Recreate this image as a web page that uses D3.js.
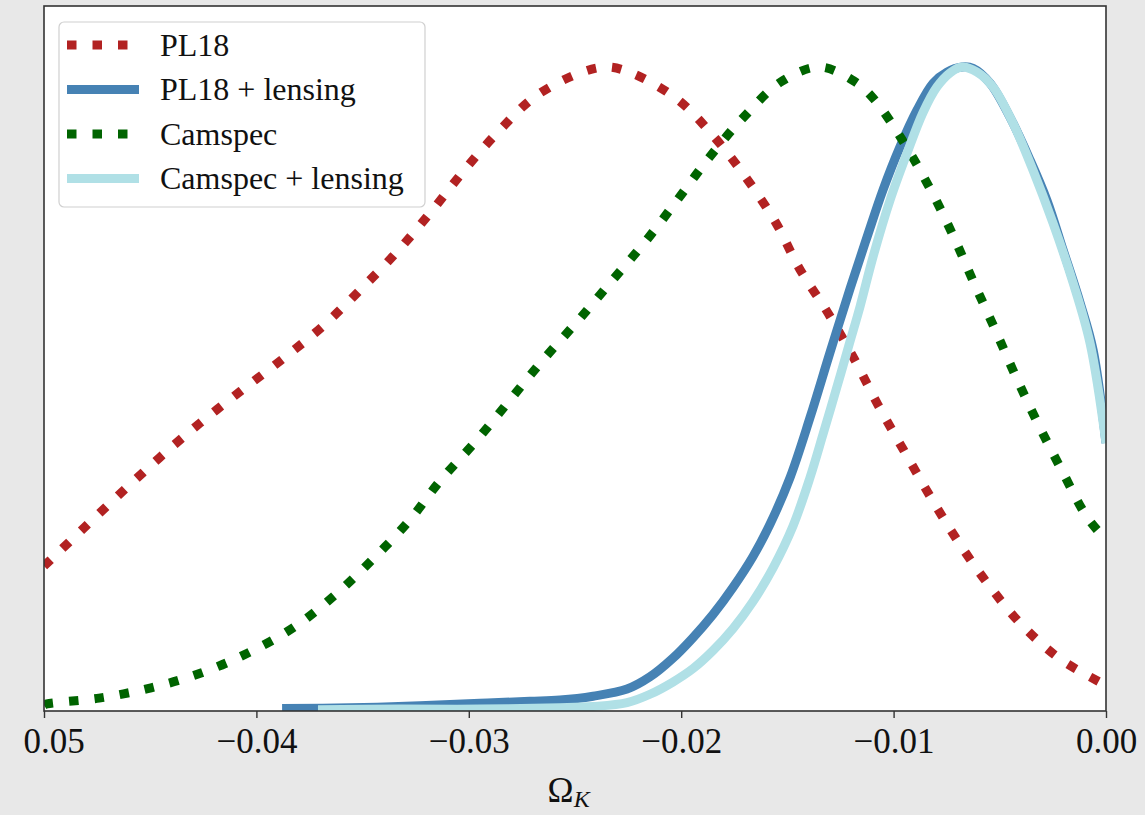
<!DOCTYPE html>
<html>
<head>
<meta charset="utf-8">
<script src="https://cdn.jsdelivr.net/npm/d3@7"></script>
<style>
  body { margin: 0; background: #e8e8e8; }
  svg { display: block; font-family: "Liberation Serif", "DejaVu Serif", serif; }
</style>
</head>
<body>
<div id="chart"></div>
<script>
// posterior of Omega_K, each curve normalised to its peak
const pl18Omega = [-0.05, -0.04816, -0.04633, -0.04454, -0.04266, -0.04073, -0.03875, -0.03686, -0.03508, -0.03338,
  -0.03178, -0.03023, -0.02863, -0.02684, -0.02467, -0.02345, -0.02222, -0.02015, -0.01841, -0.0169,
  -0.01554, -0.01445, -0.01309, -0.01186, -0.01073, -0.00951, -0.00829, -0.00702, -0.0056, -0.004, -0.00217, 0.0];
const pl18Dens = [0.225, 0.283, 0.340, 0.394, 0.447, 0.497, 0.547, 0.598, 0.655, 0.713,
  0.775, 0.839, 0.899, 0.955, 0.992, 1.0, 0.989, 0.949, 0.890, 0.826,
  0.758, 0.688, 0.618, 0.547, 0.475, 0.404, 0.334, 0.266, 0.199, 0.135, 0.081, 0.040];

const pl18LensOmega = [-0.03879, -0.03559, -0.0323, -0.02947, -0.02712, -0.02571, -0.02415, -0.02255, -0.02147, -0.02039,
  -0.01944, -0.0185, -0.01756, -0.01662, -0.01582, -0.01488, -0.01394, -0.013, -0.01205, -0.01125,
  -0.0105, -0.0097, -0.0089, -0.00814, -0.00749, -0.00678, -0.00626, -0.00546, -0.00452, -0.00358,
  -0.00278, -0.00202, -0.00122, -0.00061, 0.0];
const pl18LensDens = [0.004, 0.005, 0.008, 0.012, 0.015, 0.017, 0.023, 0.034, 0.053, 0.082,
  0.114, 0.150, 0.192, 0.240, 0.290, 0.362, 0.455, 0.556, 0.656, 0.736,
  0.809, 0.876, 0.933, 0.975, 0.992, 1.0, 0.998, 0.975, 0.922, 0.856,
  0.793, 0.716, 0.634, 0.561, 0.416];

const camspecOmega = [-0.05, -0.04986, -0.04741, -0.04496, -0.04261, -0.0404, -0.03823, -0.0363, -0.03451, -0.03282,
  -0.03136, -0.02961, -0.02806, -0.02651, -0.02486, -0.02326, -0.02166, -0.02015, -0.01869, -0.01709,
  -0.0153, -0.0135, -0.01186, -0.01097, -0.0096, -0.00833, -0.00725, -0.00626, -0.00523, -0.00424,
  -0.0032, -0.00207, -0.00089, 0.0];
const camspecDens = [0.009, 0.011, 0.020, 0.036, 0.059, 0.090, 0.130, 0.180, 0.236, 0.295,
  0.357, 0.421, 0.483, 0.545, 0.606, 0.668, 0.730, 0.795, 0.859, 0.921,
  0.977, 1.0, 0.978, 0.952, 0.887, 0.814, 0.742, 0.668, 0.593, 0.519,
  0.446, 0.373, 0.301, 0.266];

const camspecLensOmega = [-0.0371, -0.03324, -0.02947, -0.02571, -0.02415, -0.02255, -0.02147, -0.02039, -0.01944, -0.0185,
  -0.01756, -0.01662, -0.01568, -0.01474, -0.01394, -0.01332, -0.01267, -0.01205, -0.01158, -0.01097,
  -0.01017, -0.00937, -0.00862, -0.00796, -0.00734, -0.00678, -0.00607, -0.00532, -0.00438, -0.00344,
  -0.0025, -0.00155, -0.00075, 0.0];
const camspecLensDens = [0.002, 0.003, 0.003, 0.005, 0.007, 0.013, 0.026, 0.045, 0.066, 0.094,
  0.128, 0.170, 0.222, 0.287, 0.362, 0.430, 0.503, 0.574, 0.628, 0.705,
  0.793, 0.866, 0.929, 0.969, 0.991, 1.0, 0.992, 0.969, 0.913, 0.840,
  0.758, 0.665, 0.571, 0.416];

const xTicks = [-0.05, -0.04, -0.03, -0.02, -0.01, 0.0];

const series = [
  { label: "PL18", xs: pl18Omega, ys: pl18Dens, color: "#b22222", dotted: true },
  { label: "PL18 + lensing", xs: pl18LensOmega, ys: pl18LensDens, color: "#4682b4", dotted: false },
  { label: "Camspec", xs: camspecOmega, ys: camspecDens, color: "#006400", dotted: true },
  { label: "Camspec + lensing", xs: camspecLensOmega, ys: camspecLensDens, color: "#b0e0e6", dotted: false }
];

const width = 1145;
const height = 815;
const margin = { top: 6, right: 39, bottom: 104, left: 44 };

const svg = d3.select("#chart")
  .append("svg")
  .attr("width", width)
  .attr("height", height);

svg.append("rect")
  .attr("width", width)
  .attr("height", height)
  .attr("fill", "#e8e8e8");

const x = d3.scaleLinear()
  .domain([-0.05, 0.0])
  .range([margin.left, width - margin.right]);

const y = d3.scaleLinear()
  .domain([0, 1])
  .range([height - margin.bottom, 67]);

svg.append("rect")
  .attr("x", margin.left)
  .attr("y", margin.top)
  .attr("width", width - margin.left - margin.right)
  .attr("height", height - margin.top - margin.bottom)
  .attr("fill", "white");

svg.append("clipPath")
  .attr("id", "plot-clip")
  .append("rect")
  .attr("x", margin.left)
  .attr("y", margin.top)
  .attr("width", width - margin.left - margin.right)
  .attr("height", height - margin.top - margin.bottom);

const line = d3.line()
  .x(d => x(d[0]))
  .y(d => y(d[1]))
  .curve(d3.curveCatmullRom.alpha(0.5));

const curves = svg.append("g").attr("clip-path", "url(#plot-clip)");

series.forEach(s => {
  curves.append("path")
    .datum(s.xs.map((v, i) => [v, s.ys[i]]))
    .attr("fill", "none")
    .attr("stroke", s.color)
    .attr("stroke-width", 9)
    .attr("stroke-dasharray", s.dotted ? "9.5,16" : null)
    .attr("stroke-linejoin", "round")
    .attr("d", line);
});

// frame
svg.append("rect")
  .attr("x", margin.left)
  .attr("y", margin.top)
  .attr("width", width - margin.left - margin.right)
  .attr("height", height - margin.top - margin.bottom)
  .attr("fill", "none")
  .attr("stroke", "#333")
  .attr("stroke-width", 1.6);

// x axis
const xAxis = d3.axisBottom(x)
  .tickValues(xTicks)
  .tickSize(7)
  .tickPadding(10)
  .tickFormat(d => d === -0.05 ? "0.05" : (d < 0 ? "\u2212" : "") + Math.abs(d).toFixed(2));

const gx = svg.append("g")
  .attr("transform", "translate(0," + (height - margin.bottom) + ")")
  .call(xAxis);

gx.select(".domain").remove();
gx.selectAll(".tick line").attr("stroke", "#333").attr("stroke-width", 1.4);
gx.selectAll(".tick text")
  .attr("font-family", "Liberation Serif, serif")
  .attr("font-size", "35px")
  .attr("fill", "#111");
gx.selectAll(".tick text")
  .filter(d => d === -0.05)
  .attr("text-anchor", "start")
  .attr("x", -21);

const xLabel = svg.append("text")
  .attr("x", x(-0.0253))
  .attr("y", 802)
  .attr("text-anchor", "middle")
  .attr("font-size", "35px")
  .attr("fill", "#111");
xLabel.append("tspan").text("\u03A9");
xLabel.append("tspan")
  .attr("font-style", "italic")
  .attr("font-size", "24px")
  .attr("dy", 5)
  .text("K");

// legend
const legend = svg.append("g")
  .attr("transform", "translate(59,22)");

legend.append("rect")
  .attr("width", 366)
  .attr("height", 185)
  .attr("rx", 5)
  .attr("fill", "white")
  .attr("fill-opacity", 0.85)
  .attr("stroke", "#d0d0d0")
  .attr("stroke-width", 1.2);

const items = legend.selectAll(".legend-item")
  .data(series)
  .enter().append("g")
  .attr("class", "legend-item")
  .attr("transform", (d, i) => "translate(0," + (23 + i * 44.5) + ")");

items.append("line")
  .attr("x1", 8)
  .attr("x2", 80)
  .attr("stroke", d => d.color)
  .attr("stroke-width", 9)
  .attr("stroke-dasharray", d => d.dotted ? "9.5,16" : null);

items.append("text")
  .attr("x", 101)
  .attr("dy", "0.33em")
  .attr("font-size", "32px")
  .attr("fill", "#111")
  .text(d => d.label);
</script>
</body>
</html>
